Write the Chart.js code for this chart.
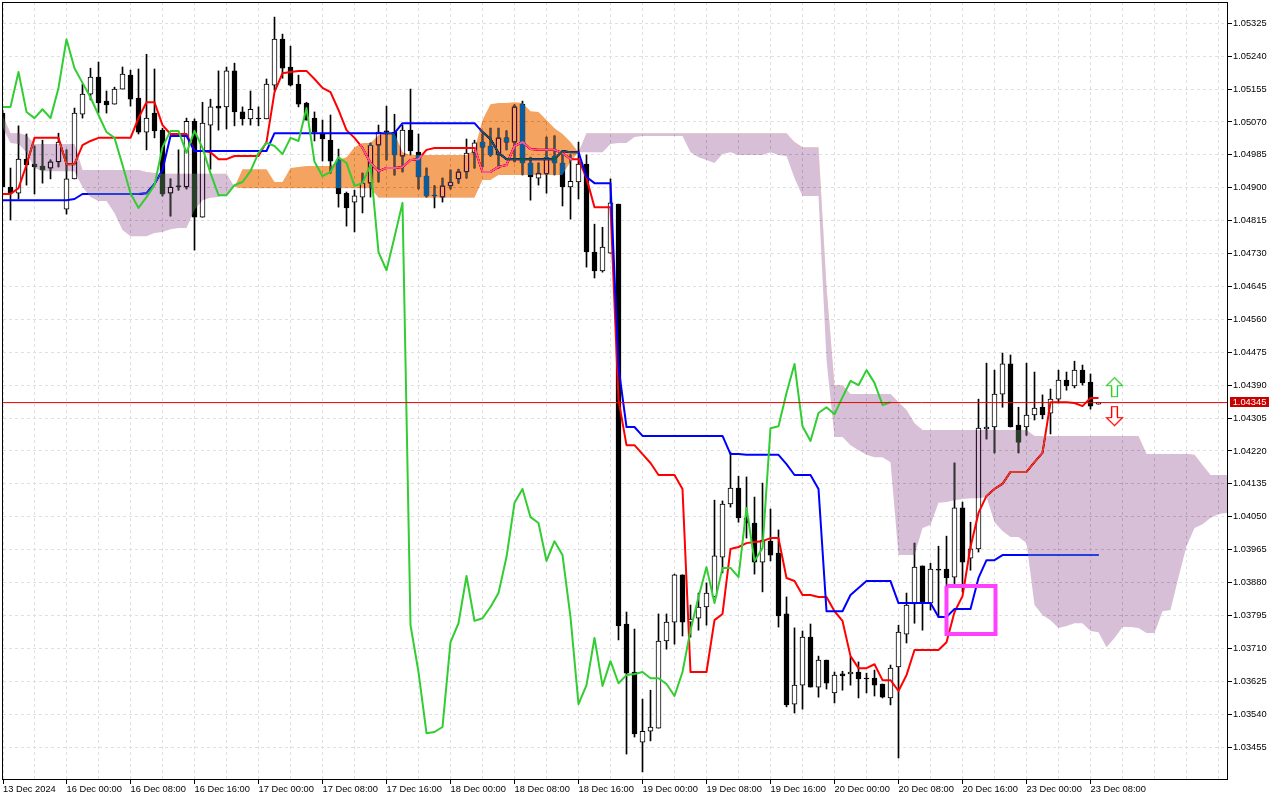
<!DOCTYPE html>
<html><head><meta charset="utf-8">
<style>html,body{margin:0;padding:0;background:#fff}canvas{display:block}</style>
<script src="https://cdn.jsdelivr.net/npm/chart.js@4/dist/chart.umd.min.js"></script>
</head><body><canvas id="c" width="1280" height="800"></canvas>
<script>
const opens=[1.05093,1.04902,1.04886,1.04974,1.04961,1.04956,1.04951,1.04967,1.04845,1.04923,
1.05090,1.05142,1.05186,1.05124,1.05116,1.05155,1.05191,1.05132,1.05044,1.05093,
1.05049,1.04886,1.04905,1.04902,1.05072,1.04824,1.05062,1.05111,1.05109,1.05202,
1.05096,1.05078,1.05080,1.05078,1.05165,1.05284,1.05212,1.05168,1.05119,1.05080,
1.05041,1.05023,1.04972,1.04886,1.04863,1.04876,1.04912,1.05010,1.05047,1.05044,
1.04982,1.05049,1.04992,1.04930,1.04881,1.04876,1.04905,1.04923,1.04941,1.04990,
1.05018,1.05008,1.04985,1.05029,1.05018,1.05116,1.04964,1.04925,1.04936,1.04982,
1.04964,1.04902,1.04915,1.04961,1.04734,1.04685,1.04731,1.04858,1.03773,1.03649,
1.03468,1.03496,1.03504,1.03729,1.03778,1.03900,1.03778,1.03788,1.03817,1.03843,
1.03946,1.04083,1.04124,1.04047,1.04034,1.03933,1.03987,1.03956,1.03799,1.03566,
1.03615,1.03739,1.03610,1.03680,1.03595,1.03644,1.03644,1.03649,1.03633,1.03633,
1.03618,1.03582,1.03662,1.03747,1.03825,1.03923,1.03827,1.03915,1.03915,1.03894,
1.04073,1.03943,1.03967,1.04277,1.04282,1.04367,1.04445,1.04287,1.04282,1.04313,
1.04333,1.04318,1.04354,1.04403,1.04388,1.04429,1.04398,1.04341];
const highs=[1.05101,1.04951,1.05060,1.05039,1.05008,1.05023,1.04972,1.05041,1.04998,1.05106,
1.05168,1.05209,1.05225,1.05150,1.05160,1.05212,1.05204,1.05207,1.05245,1.05207,
1.05054,1.04923,1.04998,1.05080,1.05078,1.05121,1.05129,1.05202,1.05212,1.05222,
1.05109,1.05150,1.05109,1.05181,1.05341,1.05297,1.05266,1.05191,1.05121,1.05096,
1.05075,1.05088,1.05000,1.04889,1.04894,1.04938,1.05016,1.05062,1.05111,1.05090,
1.05062,1.05155,1.05039,1.04951,1.04905,1.04925,1.04946,1.04948,1.05026,1.05023,
1.05039,1.05054,1.05054,1.05047,1.05114,1.05124,1.04979,1.04964,1.05031,1.05034,
1.04990,1.04985,1.05018,1.04985,1.04806,1.04798,1.04923,1.04858,1.03804,1.03760,
1.03579,1.03602,1.03799,1.03799,1.03902,1.03900,1.03822,1.03853,1.03879,1.04093,
1.04091,1.04217,1.04155,1.04153,1.04101,1.04137,1.04070,1.04016,1.03843,1.03763,
1.03755,1.03773,1.03690,1.03680,1.03649,1.03651,1.03688,1.03675,1.03646,1.03654,
1.03618,1.03667,1.03770,1.03853,1.03982,1.03923,1.03930,1.03974,1.04000,1.04189,
1.04088,1.04036,1.04354,1.04447,1.04429,1.04473,1.04468,1.04333,1.04447,1.04424,
1.04365,1.04380,1.04429,1.04424,1.04452,1.04442,1.04419,1.04346];
const lows=[1.04902,1.04817,1.04871,1.04907,1.04884,1.04912,1.04923,1.04954,1.04832,1.04923,
1.05080,1.05127,1.05093,1.05093,1.05116,1.05155,1.05111,1.05039,1.04998,1.05029,
1.04879,1.04827,1.04894,1.04897,1.04739,1.04824,1.04948,1.05049,1.05052,1.05060,
1.05062,1.05062,1.05060,1.05078,1.05152,1.05183,1.05163,1.05109,1.05075,1.05021,
1.04969,1.04938,1.04850,1.04801,1.04786,1.04835,1.04876,1.04915,1.04972,1.04933,
1.04941,1.04985,1.04897,1.04876,1.04848,1.04863,1.04897,1.04912,1.04925,1.04951,
1.04954,1.04982,1.04951,1.04998,1.04967,1.04933,1.04868,1.04907,1.04886,1.04933,
1.04853,1.04819,1.04871,1.04695,1.04667,1.04682,1.04731,1.03732,1.03437,1.03481,
1.03391,1.03471,1.03504,1.03708,1.03721,1.03742,1.03739,1.03757,1.03770,1.03843,
1.03905,1.04075,1.04036,1.03995,1.03902,1.03856,1.03936,1.03765,1.03559,1.03543,
1.03553,1.03610,1.03584,1.03605,1.03569,1.03602,1.03615,1.03582,1.03595,1.03587,
1.03582,1.03564,1.03427,1.03724,1.03775,1.03757,1.03809,1.03791,1.03868,1.03868,
1.03856,1.03912,1.03959,1.04251,1.04215,1.04333,1.04282,1.04215,1.04261,1.04300,
1.04303,1.04264,1.04344,1.04377,1.04383,1.04390,1.04328,1.04341];
const closes=[1.04902,1.04886,1.04974,1.04959,1.04954,1.04946,1.04967,1.05018,1.04923,1.05093,
1.05142,1.05186,1.05119,1.05114,1.05155,1.05194,1.05129,1.05044,1.05080,1.05047,
1.04884,1.04902,1.04902,1.05072,1.04824,1.05067,1.05109,1.05106,1.05202,1.05096,
1.05078,1.05103,1.05078,1.05168,1.05284,1.05209,1.05165,1.05116,1.05075,1.05044,
1.05026,1.04969,1.04884,1.04848,1.04879,1.04912,1.05010,1.05044,1.05044,1.04985,
1.05049,1.04995,1.04928,1.04879,1.04879,1.04905,1.04915,1.04941,1.04990,1.05016,
1.05005,1.04985,1.05029,1.05018,1.05109,1.04964,1.04928,1.04938,1.04979,1.04964,
1.04902,1.04917,1.04961,1.04734,1.04685,1.04747,1.04861,1.03768,1.03646,1.03489,
1.03496,1.03507,1.03729,1.03778,1.03900,1.03778,1.03786,1.03817,1.03853,1.03949,
1.04083,1.04124,1.04047,1.04034,1.03933,1.03990,1.03951,1.03794,1.03564,1.03615,
1.03739,1.03610,1.03680,1.03620,1.03641,1.03639,1.03649,1.03631,1.03631,1.03615,
1.03584,1.03659,1.03752,1.03822,1.03920,1.03827,1.03915,1.03912,1.03892,1.04073,
1.03933,1.03967,1.04279,1.04282,1.04367,1.04445,1.04282,1.04243,1.04313,1.04331,
1.04313,1.04354,1.04403,1.04388,1.04429,1.04396,1.04336,1.04346];
const tenkan=[1.04884,1.04884,1.04899,1.04959,1.05029,1.05029,1.05029,1.05029,1.04961,1.04961,
1.05010,1.05021,1.05029,1.05029,1.05029,1.05029,1.05029,1.05080,1.05121,1.05121,
1.05062,1.05039,1.05039,1.05039,1.04995,1.04995,1.04992,1.04974,1.04974,1.04982,
1.04982,1.04982,1.04982,1.05018,1.05147,1.05196,1.05199,1.05202,1.05202,1.05181,
1.05158,1.05147,1.05101,1.05049,1.05029,1.05003,1.04964,1.04943,1.04951,1.04951,
1.04954,1.04972,1.04974,1.04998,1.05003,1.05003,1.05003,1.05003,1.05003,1.05003,
1.04941,1.04941,1.04954,1.04959,1.05008,1.05018,1.05000,1.04998,1.04998,1.04998,
1.04990,1.04974,1.04974,1.04925,1.04850,1.04850,1.04850,1.04352,1.04235,1.04235,
1.04212,1.04189,1.04158,1.04158,1.04158,1.04122,1.03649,1.03649,1.03649,1.03783,
1.03799,1.03967,1.03972,1.03982,1.03985,1.03987,1.03995,1.03995,1.03892,1.03884,
1.03848,1.03848,1.03843,1.03843,1.03806,1.03781,1.03690,1.03659,1.03659,1.03669,
1.03628,1.03628,1.03600,1.03641,1.03706,1.03706,1.03706,1.03706,1.03726,1.03804,
1.03845,1.03972,1.04060,1.04104,1.04122,1.04135,1.04166,1.04166,1.04166,1.04191,
1.04215,1.04346,1.04346,1.04346,1.04344,1.04336,1.04357,1.04357];
const kijun=[1.04868,1.04868,1.04868,1.04868,1.04868,1.04868,1.04868,1.04868,1.04868,1.04871,
1.04884,1.04884,1.04884,1.04884,1.04884,1.04884,1.04884,1.04884,1.04886,1.04910,
1.04946,1.05034,1.05034,1.05034,1.04995,1.04995,1.04995,1.04995,1.04995,1.04995,
1.04995,1.04995,1.04995,1.04995,1.05041,1.05041,1.05041,1.05041,1.05041,1.05041,
1.05041,1.05041,1.05041,1.05041,1.05041,1.05041,1.05041,1.05041,1.05041,1.05041,
1.05067,1.05067,1.05067,1.05067,1.05067,1.05067,1.05067,1.05067,1.05067,1.05067,
1.05044,1.05026,1.04990,1.04974,1.04974,1.04974,1.04974,1.04974,1.04974,1.04974,
1.04995,1.04992,1.04992,1.04928,1.04912,1.04912,1.04912,1.04437,1.04282,1.04282,
1.04259,1.04259,1.04259,1.04259,1.04259,1.04259,1.04259,1.04259,1.04259,1.04259,
1.04259,1.04212,1.04212,1.04210,1.04210,1.04210,1.04210,1.04210,1.04186,1.04158,
1.04158,1.04158,1.04122,1.03806,1.03806,1.03806,1.03848,1.03866,1.03884,1.03884,
1.03884,1.03884,1.03827,1.03827,1.03827,1.03827,1.03827,1.03791,1.03791,1.03812,
1.03812,1.03812,1.03892,1.03938,1.03938,1.03951,1.03951,1.03951,1.03951,1.03951,
1.03951,1.03951,1.03951,1.03951,1.03951,1.03951,1.03951,1.03951];
const chikou=[1.05109,1.05109,1.05199,1.05096,1.05080,1.05103,1.05080,1.05158,1.05284,1.05209,
1.05171,1.05134,1.05088,1.05044,1.05029,1.04959,1.04886,1.04848,1.04876,1.04907,
1.05005,1.05047,1.05047,1.04990,1.05047,1.05003,1.04938,1.04881,1.04881,1.04907,
1.04915,1.04943,1.04990,1.05016,1.05008,1.04987,1.05029,1.05021,1.05106,1.04967,
1.04930,1.04941,1.04979,1.04964,1.04905,1.04912,1.04959,1.04734,1.04687,1.04773,
1.04861,1.03770,1.03649,1.03491,1.03494,1.03507,1.03726,1.03775,1.03897,1.03781,
1.03788,1.03817,1.03853,1.03946,1.04086,1.04122,1.04049,1.04034,1.03936,1.03987,
1.03951,1.03791,1.03566,1.03615,1.03737,1.03613,1.03677,1.03620,1.03641,1.03644,
1.03649,1.03633,1.03633,1.03618,1.03587,1.03649,1.03757,1.03843,1.03920,1.03827,
1.03918,1.03918,1.03894,1.04073,1.03936,1.03969,1.04279,1.04284,1.04370,1.04445,
1.04284,1.04246,1.04318,1.04333,1.04315,1.04359,1.04401,1.04390,1.04429,1.04396,
1.04339,1.04346];
const spanA=[1.05057,1.05016,1.05013,1.04992,1.04951,1.04943,1.04943,1.04943,1.04943,1.04943,
1.04902,1.04876,1.04866,1.04866,1.04835,1.04791,1.04775,1.04775,1.04775,1.04783,
1.04786,1.04793,1.04796,1.04796,1.04843,1.04868,1.04874,1.04876,1.04884,1.04902,
1.04948,1.04948,1.04948,1.04948,1.04915,1.04915,1.04951,1.04954,1.04956,1.04956,
1.04956,1.04956,1.04972,1.04979,1.05005,1.05016,1.05016,1.05036,1.05041,1.05041,
1.04992,1.04985,1.04985,1.04985,1.04985,1.04985,1.04985,1.04985,1.04985,1.04998,
1.05075,1.05116,1.05119,1.05119,1.05121,1.05119,1.05098,1.05096,1.05075,1.05054,
1.05039,1.05018,1.04992,1.04992,1.04992,1.04992,1.05013,1.05016,1.05016,1.05031,
1.05034,1.05034,1.05034,1.05034,1.05034,1.05034,1.04992,1.04979,1.04972,1.04964,
1.04987,1.04992,1.04985,1.04985,1.04985,1.04985,1.04992,1.04985,1.04982,1.04925,
1.04879,1.04879,1.04879,1.04455,1.04256,1.04256,1.04235,1.04222,1.04210,1.04204,
1.04204,1.04191,1.03951,1.03951,1.03951,1.04021,1.04029,1.04086,1.04088,1.04093,
1.04096,1.04098,1.04098,1.04101,1.04036,1.04013,1.03998,1.03998,1.03982,1.03822,
1.03796,1.03783,1.03763,1.03768,1.03775,1.03775,1.03755,1.03752,1.03713,1.03737,
1.03765,1.03765,1.03763,1.03750,1.03750,1.03806,1.03809,1.03894,1.03974,1.04021,
1.04031,1.04047,1.04057,1.04060,1.04060];
const spanB=[1.05088,1.05041,1.05041,1.05036,1.05013,1.05013,1.05013,1.05013,1.05013,1.05013,
1.04946,1.04946,1.04946,1.04946,1.04946,1.04946,1.04946,1.04946,1.04941,1.04938,
1.04936,1.04936,1.04936,1.04936,1.04936,1.04936,1.04936,1.04936,1.04936,1.04902,
1.04899,1.04899,1.04899,1.04899,1.04899,1.04899,1.04899,1.04899,1.04899,1.04899,
1.04899,1.04899,1.04899,1.04899,1.04899,1.04899,1.04899,1.04874,1.04874,1.04874,
1.04874,1.04874,1.04874,1.04874,1.04874,1.04874,1.04874,1.04874,1.04874,1.04874,
1.04920,1.04920,1.04933,1.04933,1.04933,1.04933,1.04933,1.04933,1.04933,1.04933,
1.04933,1.04967,1.04992,1.05041,1.05041,1.05041,1.05041,1.05041,1.05041,1.05041,
1.05041,1.05041,1.05041,1.05041,1.05041,1.05041,1.05041,1.05041,1.05041,1.05041,
1.05041,1.05041,1.05041,1.05041,1.05041,1.05041,1.05041,1.05041,1.05041,1.05018,
1.05005,1.05005,1.05005,1.04644,1.04390,1.04390,1.04367,1.04367,1.04367,1.04367,
1.04367,1.04367,1.04346,1.04326,1.04292,1.04274,1.04274,1.04274,1.04274,1.04274,
1.04274,1.04274,1.04274,1.04274,1.04274,1.04274,1.04274,1.04274,1.04274,1.04259,
1.04259,1.04259,1.04259,1.04259,1.04259,1.04259,1.04259,1.04259,1.04259,1.04259,
1.04259,1.04259,1.04259,1.04212,1.04212,1.04212,1.04212,1.04212,1.04212,1.04210,
1.04184,1.04158,1.04158,1.04158,1.04158];
const priceTicks=[1.05325,1.05240,1.05155,1.05070,1.04985,1.04900,1.04815,1.04730,1.04645,1.04560,1.04475,1.04390,1.04305,1.04220,1.04135,1.04050,1.03965,1.03880,1.03795,1.03710,1.03625,1.03540,1.03455];
const timeTicks=[0.0625,4,8,12,16,20,24,28,32,36,40,44,48,52,56,60,64,68,72,76,80,84,88,92,96,100,104,108,112,116,120,124,128,132,136,140,144,148,152];
const timeLabels=["13 Dec 2024","","16 Dec 00:00","","16 Dec 08:00","","16 Dec 16:00","","17 Dec 00:00","","17 Dec 08:00","","17 Dec 16:00","","18 Dec 00:00","","18 Dec 08:00","","18 Dec 16:00","","19 Dec 00:00","","19 Dec 08:00","","19 Dec 16:00","","20 Dec 00:00","","20 Dec 08:00","","20 Dec 16:00","","23 Dec 00:00","","23 Dec 08:00","","","",""];
const currentPrice=1.04345;
const boxTimes=[118,124.125,124.125,118,118];
const boxPrices=[1.03871,1.03871,1.03747,1.03747,1.03871];
const arrowTime=139;
const arrowUpPrice=1.04385;
const arrowDownPrice=1.04310;

const xy=a=>a.map((y,x)=>({x,y}));
function arrow(color,down,leftTint,rightTint){
  const c=document.createElement('canvas');c.width=19;c.height=22;
  const g=c.getContext('2d');
  if(down){g.translate(0,22);g.scale(1,-1);}
  g.beginPath();
  [[9.5,1.5],[17.5,9.5],[12.5,9.5],[12.5,20.5],[6.5,20.5],[6.5,9.5],[1.5,9.5]].forEach((p,i)=>i?g.lineTo(p[0],p[1]):g.moveTo(p[0],p[1]));
  g.closePath();g.fillStyle='#fff';g.fill();
  g.strokeStyle=color;g.lineWidth=1.2;g.stroke();
  g.lineWidth=1;
  g.strokeStyle=leftTint;g.beginPath();g.moveTo(7.5,10);g.lineTo(7.5,20);g.stroke();
  g.strokeStyle=rightTint;g.beginPath();g.moveTo(11.5,10);g.lineTo(11.5,20);g.stroke();
  return c;
}
const frame={id:'frame',
  beforeDraw(ch){const g=ch.ctx;g.save();g.fillStyle='#fff';g.fillRect(0,0,ch.width,ch.height);g.restore();},
  afterDatasetDraw(ch,args){
    const l=ch.data.datasets[args.index].label;
    if(l==='spanB')ch.ctx.globalCompositeOperation='difference';
    if(l==='spanA')ch.ctx.globalCompositeOperation='source-over';
  },
  afterDraw(ch){
    const g=ch.ctx,a=ch.chartArea,y=ch.scales.y.getPixelForValue(currentPrice);
    g.save();g.strokeStyle='#000';g.lineWidth=1;
    g.strokeRect(2.5,2.5,a.right-2,a.bottom-3);
    g.fillStyle='#c80000';g.fillRect(a.right+3,Math.floor(y)-5,39,10);
    g.fillStyle='#fff';g.font='9.3px "Liberation Sans"';g.textAlign='center';g.textBaseline='middle';
    g.fillText(currentPrice.toFixed(5),a.right+22.5,Math.floor(y)+0.5);
    g.restore();
  }};
const font={family:'"Liberation Sans"',size:9.3};
const noPad=s=>{s.paddingTop=s.paddingBottom=s.paddingLeft=s.paddingRight=0;if(s._margins){s._margins.top=s._margins.bottom=s._margins.left=s._margins.right=0;}};
const common={type:'line',pointRadius:0,tension:0,fill:false,borderJoinStyle:'round'};
const datasets=[
 {type:'bar',label:'wicks',order:20,grouped:false,barThickness:1,borderWidth:0,backgroundColor:'#000',
  data:highs.map((h,i)=>({x:i,y:[lows[i],h]}))},
 {type:'bar',label:'bodies',order:19,grouped:false,barThickness:5,borderWidth:1,borderColor:'#000',borderSkipped:false,
  backgroundColor:opens.map((o,i)=>closes[i]<o?'#000':'#fff'),
  data:opens.map((o,i)=>({x:i,y:[o,closes[i]]}))},
 {...common,label:'Tenkan',order:18,borderColor:'#ff0000',borderWidth:2,data:xy(tenkan)},
 {...common,label:'Kijun',order:17,borderColor:'#0000ff',borderWidth:2,data:xy(kijun)},
 {...common,label:'spanB',order:16,borderWidth:0,data:xy(spanB)},
 {...common,label:'spanA',order:15,borderWidth:0,data:xy(spanA),fill:{target:4,above:'#0B5B9F',below:'#274027'}},
 {...common,label:'Chikou',order:14,borderColor:'#32cd32',borderWidth:2,data:xy(chikou)},
 {...common,label:'price',order:13,borderColor:'#e60000',borderWidth:1,data:[{x:0,y:currentPrice},{x:154,y:currentPrice}]},
 {...common,label:'box',order:12,borderColor:'#ff40ff',borderWidth:4,borderJoinStyle:'miter',data:boxTimes.map((x,i)=>({x,y:boxPrices[i]}))},
 {type:'scatter',label:'up',order:11,showLine:false,pointRadius:6,pointStyle:arrow('#32cd32',false,'#d0f070','#a0ffff'),data:[{x:arrowTime,y:arrowUpPrice}]},
 {type:'scatter',label:'down',order:10,showLine:false,pointRadius:6,pointStyle:arrow('#ff0000',true,'#ffa0c0','#ffc080'),data:[{x:arrowTime,y:arrowDownPrice}]}
];
new Chart(document.getElementById('c'),{
 type:'line',data:{datasets},plugins:[frame],
 options:{responsive:false,animation:false,devicePixelRatio:1,
  layout:{padding:{left:3,top:2,right:0,bottom:0},autoPadding:false},
  plugins:{legend:{display:false},tooltip:{enabled:false},title:{display:false}},
  events:[],
  scales:{
   x:{type:'linear',offset:false,min:0.0625,max:153.0625,
    afterFit(s){s.height=20;noPad(s);},
    afterBuildTicks(s){s.ticks=timeTicks.map(value=>({value}));},
    grid:{offset:false,color:'#e0e0e0',drawTicks:true,tickLength:4,tickColor:c=>(c.tick&&c.tick.label)?'#000':'rgba(0,0,0,0)'},
    border:{display:false,dash:[3,3]},
    ticks:{autoSkip:false,maxRotation:0,minRotation:0,align:'start',padding:0,color:'#000',font,
      callback:(v,i)=>timeLabels[i]}},
   y:{type:'linear',position:'right',min:1.0337,max:1.0538,
    afterFit(s){s.width=53;noPad(s);},
    afterBuildTicks(s){s.ticks=priceTicks.map(value=>({value}));},
    grid:{color:'#e0e0e0',drawTicks:true,tickLength:5,tickColor:'#000'},
    border:{display:false,dash:[3,3]},
    ticks:{padding:1,color:'#000',font,autoSkip:false,callback:v=>Number(v).toFixed(5)}}
  }}
});
</script></body></html>
